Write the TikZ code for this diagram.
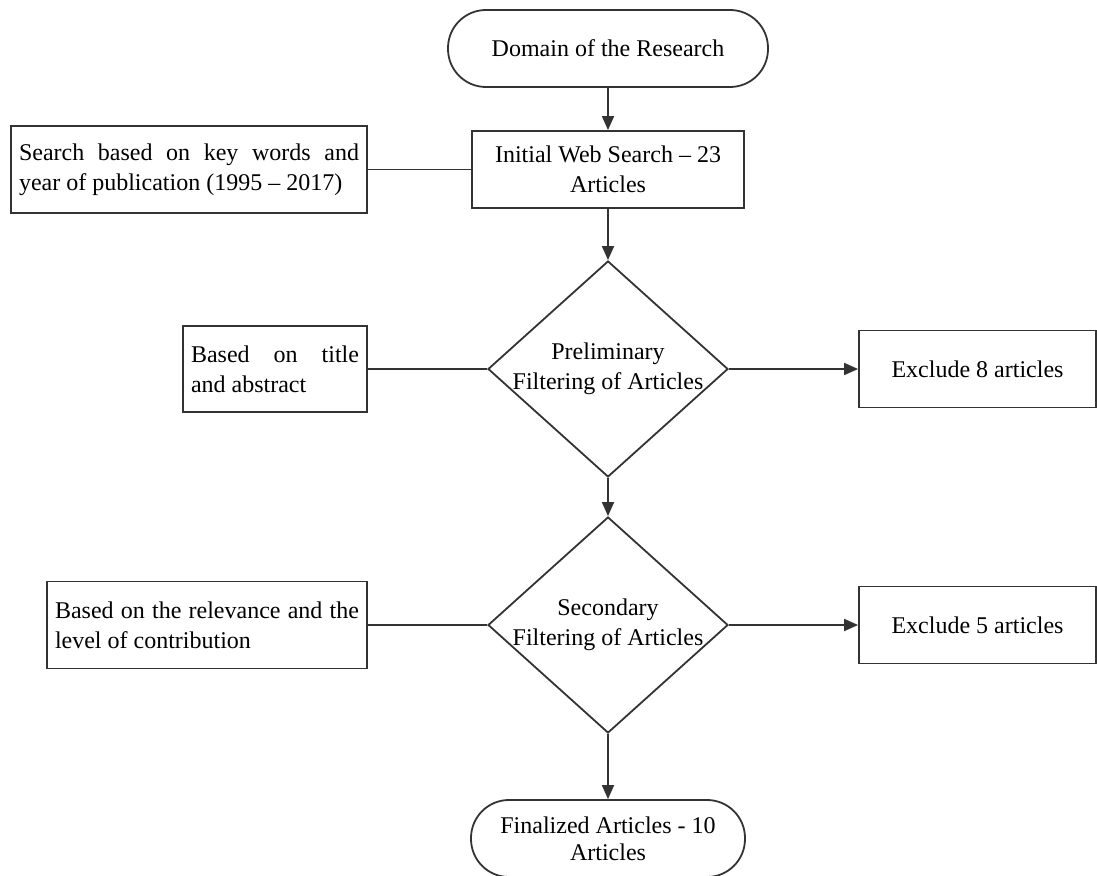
\documentclass[tikz,border=0pt]{standalone}
\usepackage{fontspec}
\setmainfont{Liberation Serif}
\usetikzlibrary{shapes.geometric,arrows.meta}

\begin{document}
\begin{tikzpicture}[x=0.5pt,y=-0.5pt,
        every node/.style={font=\fontsize{12}{15}\selectfont},
        flowline/.style={draw=black!80,line width=0.9pt},
        flowarr/.style={flowline,-{Triangle[length=7pt,width=6pt]}},
        term/.style={flowline,rectangle,rounded corners=19pt,minimum height=38.5pt,align=center,inner sep=0pt},
        stepbox/.style={flowline,rectangle,minimum height=38.5pt,align=center,inner sep=0pt},
        sidebox/.style={flowline,rectangle,minimum height=43.5pt,align=justify,inner xsep=4pt},
        decision/.style={flowline,diamond,minimum width=120pt,minimum height=108pt,inner sep=0pt}]
        \useasboundingbox (0,0) rectangle (1097,876);
        \node[term,minimum width=160pt] (domain) at (608,48.5) {Domain of the Research};
        \node[stepbox,minimum width=136pt] (initial) at (608,169.5) {Initial Web Search -- 23\\Articles};
        \node[sidebox,text width=170pt] (keywords) at (189,169.5)
        {Search based on key words and\linebreak year of publication (1995 -- 2017)};
        \node[decision,label={[align=center]center:Preliminary\\Filtering of Articles}] (prelim) at (608,369) {};
        \node[sidebox,text width=84pt,minimum height=43pt] (title) at (275,369) {Based on title\linebreak and abstract};
        \node[stepbox,minimum width=118.5pt] (excl8) at (977.5,369) {Exclude 8 articles};
        \node[decision,label={[align=center]center:Secondary\\Filtering of Articles}] (second) at (608,625) {};
        \node[sidebox,text width=152pt] (relevance) at (207,625)
        {Based on the relevance and the level of contribution};
        \node[stepbox,minimum width=118.5pt] (excl5) at (977.5,625) {Exclude 5 articles};
        \node[term,minimum width=137pt,font=\fontsize{12}{13.5}\selectfont] (final) at (608,838.5) {Finalized Articles - 10\\Articles};
        \draw[flowarr] (domain) -- (initial);
        \draw[flowline] (keywords) -- (initial);
        \draw[flowarr] (initial) -- (prelim);
        \draw[flowline] (title) -- (prelim);
        \draw[flowarr] (prelim) -- (excl8);
        \draw[flowarr] (prelim) -- (second);
        \draw[flowline] (relevance) -- (second);
        \draw[flowarr] (second) -- (excl5);
        \draw[flowarr] (second) -- (final);
      \end{tikzpicture}
\end{document}
